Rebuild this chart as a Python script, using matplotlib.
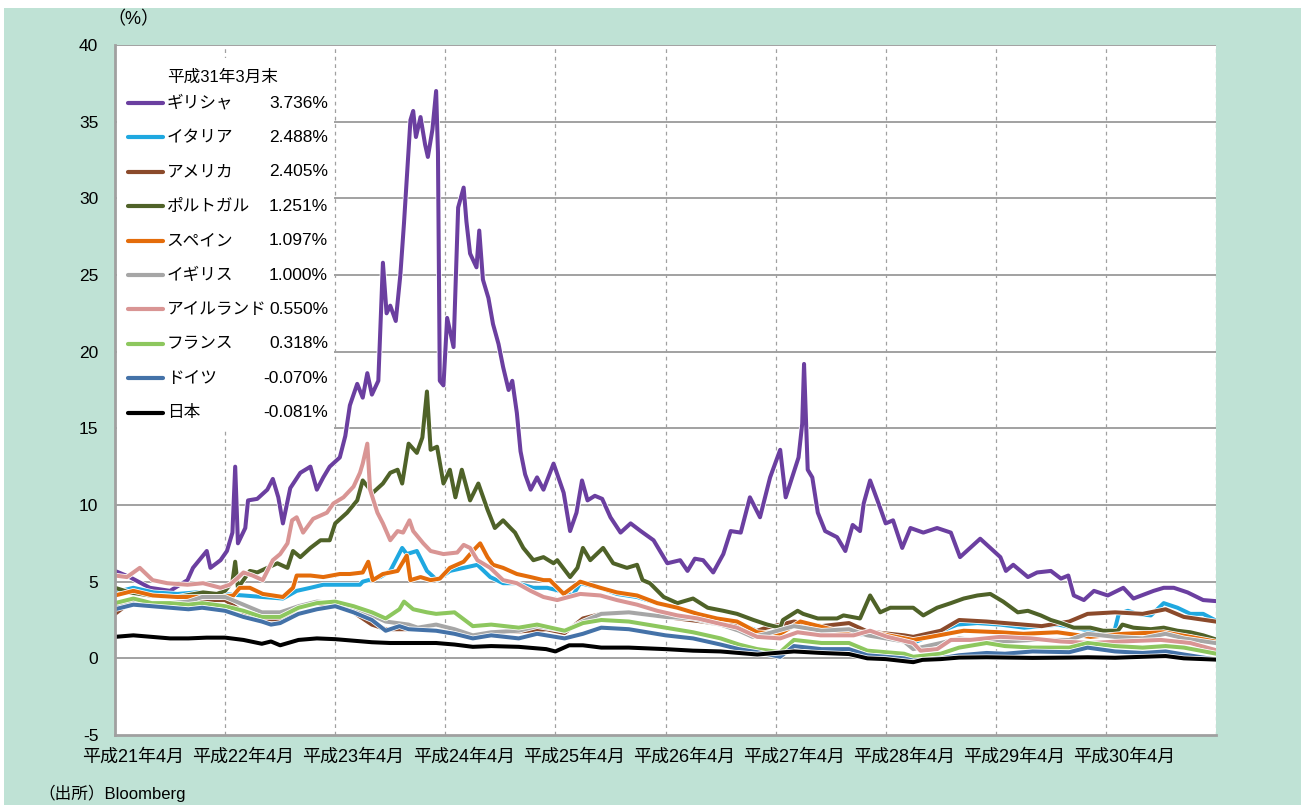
import numpy as np
import matplotlib
matplotlib.use("Agg")
from matplotlib import pyplot as plt
from matplotlib.patches import Rectangle
import matplotlib.patheffects as pe

plt.rcParams['font.family'] = ['Liberation Sans', 'Noto Sans CJK JP', 'DejaVu Sans']

# time axis: months since 2009-04 (平成21年4月)
gr_t = [0, 1.6, 3.8, 6.0, 7.9, 8.5, 10.0, 10.4, 11.5, 12.2, 12.8, 13.1, 13.4, 14.2, 14.5, 15.5,
        16.6, 17.2, 17.8, 18.3, 19.1, 20.2, 21.3, 22.0, 22.7, 23.4, 24.5, 25.1, 25.6, 26.4, 27.0,
        27.5, 28.0, 28.7, 29.2, 29.6, 30.0, 30.6, 31.1, 31.5, 32.2, 32.5, 32.8, 33.3, 33.8, 34.1,
        34.6, 35.0, 35.2, 35.4, 35.8, 36.2, 36.9, 37.4, 38.0, 38.3, 38.7, 39.4, 39.7, 40.1, 40.7,
        41.2, 41.8, 42.3, 42.9, 43.3, 43.8, 44.2, 44.7, 45.3, 46.0, 46.7, 47.8, 48.9, 49.6, 50.3,
        50.9, 51.5, 52.3, 53.1, 54.0, 55.1, 56.2, 57.3, 58.7, 60.2, 61.6, 62.4, 63.2, 64.1, 65.2,
        66.3, 67.1, 68.2, 69.2, 70.3, 71.4, 72.5, 73.1, 73.8, 74.5, 74.9, 75.1, 75.5, 76.0, 76.6,
        77.4, 78.7, 79.6, 80.4, 81.2, 81.6, 82.3, 83.1, 84.0, 84.8, 85.8, 86.7, 88.1, 89.6, 91.1,
        92.1, 93.2, 94.3, 95.4, 96.5, 97.1, 97.9, 99.5, 100.5, 102.0, 103.1, 103.9, 104.5, 105.6,
        106.7, 108.2, 109.9, 111.0, 113.2, 114.3, 115.4, 116.9, 118.6, 119.9]
gr_v = [5.7, 5.3, 4.6, 4.4, 5.1, 5.9, 7.0, 5.9, 6.4, 7.0, 8.2, 12.5, 7.5, 8.5, 10.3, 10.4,
        11.0, 11.7, 10.5, 8.8, 11.1, 12.1, 12.5, 11.0, 11.8, 12.5, 13.1, 14.5, 16.5, 17.9, 17.0,
        18.6, 17.2, 18.1, 25.8, 22.5, 23.0, 22.0, 25.0, 28.4, 35.1, 35.7, 34.0, 35.3, 33.5, 32.7,
        34.5, 37.0, 33.0, 18.1, 17.8, 22.2, 20.3, 29.4, 30.7, 28.5, 26.4, 25.5, 27.9, 24.7, 23.5,
        21.8, 20.5, 19.0, 17.5, 18.1, 16.0, 13.5, 12.0, 11.0, 11.8, 11.0, 12.7, 10.8, 8.3, 9.5,
        11.6, 10.3, 10.6, 10.4, 9.2, 8.2, 8.8, 8.3, 7.7, 6.2, 6.4, 5.7, 6.5, 6.4, 5.6,
        6.8, 8.3, 8.2, 10.5, 9.2, 11.8, 13.6, 10.5, 11.8, 13.1, 15.3, 19.2, 12.3, 11.8, 9.5,
        8.3, 7.9, 7.0, 8.7, 8.3, 10.1, 11.6, 10.3, 8.8, 9.0, 7.2, 8.5, 8.2, 8.5, 8.2,
        6.6, 7.2, 7.8, 7.2, 6.6, 5.7, 6.1, 5.3, 5.6, 5.7, 5.2, 5.4, 4.1, 3.8,
        4.4, 4.1, 4.6, 3.9, 4.4, 4.6, 4.6, 4.3, 3.8, 3.736]

it_t = [0, 2.0, 4.2, 6.8, 8.9, 11.5, 14.0, 16.1, 18.3, 19.8, 21.3, 22.7, 24.5, 26.7, 27.0, 28.9,
        30.0, 31.3, 31.8, 32.9, 34.0, 35.1, 36.5, 38.0, 39.5, 40.9, 42.3, 43.8, 45.6, 47.1, 48.5,
        49.9, 50.7, 52.9, 54.7, 56.9, 59.1, 61.3, 63.5, 65.6, 67.8, 70.0, 72.5, 74.4, 78.7, 83.4,
        87.0, 88.9, 91.8, 94.0, 96.5, 99.1, 102.8, 106.3, 108.9, 109.4, 110.4, 111.4, 112.9, 114.3,
        115.8, 117.2, 118.6, 119.9]
it_v = [4.3, 4.6, 4.3, 4.2, 4.3, 4.2, 4.1, 4.0, 3.9, 4.4, 4.6, 4.8, 4.8, 4.8, 5.0, 5.3,
        5.7, 7.2, 6.8, 7.0, 5.7, 5.1, 5.7, 5.9, 6.1, 5.3, 4.9, 4.9, 4.6, 4.6, 4.4,
        4.1, 4.9, 4.6, 4.2, 4.0, 3.6, 3.3, 2.9, 2.6, 2.3, 1.8, 1.6, 2.3, 1.8, 1.4,
        1.0, 1.5, 2.2, 2.3, 2.2, 2.0, 2.2, 1.8, 1.7, 2.9, 3.1, 2.9, 2.8, 3.6,
        3.3, 2.9, 2.9, 2.488]

us_t = [0, 2, 4, 6, 8, 12, 14, 16, 18, 20, 22, 24, 26, 28, 29.5, 32, 35, 39, 41, 44, 47, 49,
        51, 53, 56, 60, 64, 66, 68, 69.5, 71, 74, 77, 80, 82, 86, 87, 90, 92, 95, 101, 104, 106,
        109, 112, 114.5, 116.5, 119.9]
us_v = [2.9, 3.8, 3.6, 3.3, 3.8, 3.8, 3.0, 2.6, 2.5, 3.3, 3.6, 3.4, 3.0, 2.2, 1.9, 1.9, 2.2, 1.45,
        1.7, 1.75, 1.9, 1.65, 2.6, 2.9, 3.0, 2.7, 2.4, 2.2, 2.2, 1.7, 2.0, 2.4, 2.1, 2.3, 1.75, 1.5,
        1.4, 1.8, 2.5, 2.4, 2.1, 2.4, 2.9, 3.0, 2.9, 3.2, 2.7, 2.405]

pt_t = [0, 1.6, 3.8, 6.8, 9.6, 11.1, 12.0, 12.8, 13.1, 13.4, 14.7, 15.5, 16.6, 17.7, 18.8, 19.4,
        20.2, 21.3, 22.4, 23.4, 24.0, 25.3, 26.4, 27.0, 28.1, 29.2, 30.0, 30.8, 31.3, 32.0, 32.9,
        33.5, 34.0, 34.4, 35.1, 35.8, 36.5, 37.1, 37.8, 38.7, 39.6, 40.6, 41.4, 42.3, 43.1, 43.6,
        44.5, 45.6, 46.7, 47.8, 48.2, 49.6, 50.4, 51.0, 51.8, 53.2, 54.3, 55.8, 56.9, 57.5, 58.3,
        59.8, 61.3, 63.0, 64.6, 66.3, 67.8, 69.6, 71.1, 72.5, 72.8, 74.4, 75.0, 76.6, 78.7, 79.4,
        81.2, 82.3, 83.4, 84.5, 85.9, 87.0, 88.1, 89.6, 91.1, 92.5, 94.0, 95.4, 96.8, 98.4, 99.5,
        100.9, 102.0, 103.1, 104.5, 106.3, 107.7, 109.3, 109.8, 111.0, 112.9, 114.3, 115.8, 117.2,
        118.6, 119.9]
pt_v = [4.6, 4.3, 4.1, 4.0, 4.3, 4.2, 4.4, 5.0, 6.3, 4.6, 5.7, 5.6, 5.9, 6.2, 5.9, 7.0,
        6.6, 7.2, 7.7, 7.7, 8.8, 9.5, 10.3, 11.6, 10.8, 11.4, 12.1, 12.3, 11.4, 14.0, 13.4,
        14.4, 17.4, 13.6, 13.8, 11.4, 12.3, 10.5, 12.3, 10.3, 11.4, 9.7, 8.5, 9.0, 8.5, 8.2,
        7.2, 6.4, 6.6, 6.2, 6.4, 5.3, 5.9, 7.2, 6.4, 7.2, 6.2, 5.9, 6.1, 5.1, 4.9,
        4.0, 3.6, 3.9, 3.3, 3.1, 2.9, 2.5, 2.2, 2.0, 2.5, 3.1, 2.9, 2.6, 2.6, 2.8,
        2.6, 4.1, 3.0, 3.3, 3.3, 3.3, 2.8, 3.3, 3.6, 3.9, 4.1, 4.2, 3.7, 3.0, 3.1,
        2.8, 2.5, 2.3, 2.0, 2.0, 1.8, 1.8, 2.2, 2.0, 1.9, 2.0, 1.8, 1.7,
        1.5, 1.251]

es_t = [0, 2.0, 4.1, 6.8, 8.9, 11.5, 12.9, 13.6, 14.7, 16.1, 18.3, 19.4, 19.8, 21.3, 22.7, 24.5,
        25.6, 27.0, 27.6, 28.1, 29.2, 30.8, 31.8, 32.2, 33.3, 34.4, 35.4, 36.5, 38.0, 39.0, 39.8,
        40.6, 41.2, 42.3, 43.8, 45.3, 46.7, 47.4, 48.9, 50.7, 52.9, 54.7, 56.9, 59.1, 61.3, 63.5,
        65.6, 67.8, 70.0, 72.5, 74.7, 78.7, 83.4, 87.0, 88.9, 92.5, 96.5, 99.0, 102.7, 106.3,
        109.9, 114.3, 117.2, 119.9]
es_v = [4.1, 4.4, 4.1, 4.0, 4.0, 4.0, 4.1, 4.6, 4.6, 4.2, 4.0, 4.6, 5.4, 5.4, 5.3, 5.5,
        5.5, 5.6, 6.3, 5.1, 5.5, 5.7, 6.7, 5.1, 5.3, 5.1, 5.2, 5.9, 6.3, 7.0, 7.5,
        6.6, 6.1, 5.9, 5.5, 5.3, 5.1, 5.1, 4.2, 5.0, 4.6, 4.3, 4.1, 3.6, 3.3, 2.9,
        2.6, 2.4, 1.7, 1.6, 2.4, 1.8, 1.6, 1.2, 1.4, 1.8, 1.7, 1.6, 1.7, 1.4,
        1.6, 1.7, 1.4, 1.097]

uk_t = [0, 2, 4, 6, 8, 9.5, 12, 14, 16, 18, 20, 22, 24, 26, 28, 29.5, 32, 33, 35, 37, 39, 41,
        44, 46, 49, 51, 53, 56, 60, 63, 66, 68, 69.5, 71, 74, 77, 80, 82, 86, 87, 90, 92, 95, 97,
        100, 104, 106, 109, 112, 114.5, 116.5, 119.9]
uk_v = [3.4, 3.7, 3.6, 3.6, 3.7, 4.0, 4.0, 3.5, 3.0, 3.0, 3.4, 3.7, 3.6, 3.3, 2.8, 2.4, 2.2, 2.0,
        2.2, 1.9, 1.5, 1.7, 1.8, 2.1, 1.8, 2.4, 2.9, 3.0, 2.7, 2.6, 2.2, 1.8, 1.4, 1.6, 2.1, 1.8,
        1.9, 1.5, 1.1, 0.6, 1.0, 1.3, 1.1, 1.1, 1.2, 1.2, 1.6, 1.4, 1.3, 1.6, 1.3, 1.0]

ie_t = [0, 1.3, 2.7, 4.1, 5.7, 7.9, 9.6, 11.5, 12.5, 13.3, 14.0, 15.0, 16.1, 17.2, 18.0, 18.8,
        19.3, 19.8, 20.5, 21.6, 23.1, 23.8, 24.9, 26.0, 26.7, 27.0, 27.5, 27.8, 28.6, 29.2, 30.0,
        30.8, 31.4, 32.1, 32.5, 33.6, 34.4, 35.8, 37.3, 38.0, 38.7, 39.5, 40.9, 42.3, 43.8, 45.3,
        46.7, 48.2, 50.7, 52.9, 54.7, 56.9, 59.1, 61.3, 63.5, 65.6, 67.8, 70.0, 72.5, 74.4, 76.9,
        80.5, 82.3, 84.2, 87.0, 87.8, 89.6, 91.1, 93.2, 96.5, 99.8, 103.1, 106.3, 109.6, 114.0,
        117.2, 119.9]
ie_v = [5.4, 5.3, 5.9, 5.1, 4.9, 4.8, 4.9, 4.6, 4.8, 5.2, 5.6, 5.4, 5.1, 6.4, 6.8, 7.5,
        9.0, 9.2, 8.2, 9.1, 9.5, 10.1, 10.5, 11.2, 12.1, 12.7, 14.0, 11.0, 9.5, 8.8, 7.7,
        8.3, 8.2, 9.0, 8.3, 7.5, 7.0, 6.8, 6.9, 7.4, 7.2, 6.4, 5.9, 5.1, 4.9, 4.4,
        4.0, 3.8, 4.2, 4.1, 3.8, 3.5, 3.1, 2.8, 2.6, 2.3, 2.0, 1.4, 1.3, 1.7, 1.5,
        1.5, 1.8, 1.4, 1.0, 0.5, 0.6, 1.2, 1.2, 1.4, 1.3, 1.1, 1.0, 1.1, 1.2,
        1.0, 0.55]

fr_t = [0, 2, 4, 6, 8, 9.5, 12, 14, 16, 18, 20, 22, 24, 26, 28, 29.5, 31, 31.5, 32.5, 34, 35,
        37, 39, 41, 44, 46, 49, 51, 53, 56, 60, 63, 66, 68, 70, 72.5, 74, 77, 80, 82, 86, 87, 90,
        92, 95, 97, 100, 104, 106, 109, 112, 114.5, 116.5, 119.9]
fr_v = [3.6, 3.9, 3.6, 3.6, 3.5, 3.6, 3.4, 3.1, 2.7, 2.7, 3.3, 3.6, 3.7, 3.4, 3.0, 2.6, 3.2,
        3.7, 3.2, 3.0, 2.9, 3.0, 2.1, 2.2, 2.0, 2.2, 1.8, 2.3, 2.5, 2.4, 2.0, 1.7, 1.3, 0.9, 0.6,
        0.4, 1.2, 1.0, 1.0, 0.5, 0.3, 0.1, 0.3, 0.7, 1.0, 0.8, 0.7, 0.7, 1.0, 0.8, 0.7, 0.8, 0.7,
        0.318]

de_t = [0, 2, 4, 6, 8, 9.5, 12, 14, 16, 17, 18, 20, 22, 24, 26, 28, 29.5, 31, 32, 35, 37, 39,
        41, 44, 46, 49, 51, 53, 56, 60, 63, 66, 68, 70, 72.5, 74, 77, 80, 82, 86, 87, 90, 92, 95,
        97, 100, 104, 106, 109, 112, 114.5, 116.5, 119.9]
de_v = [3.2, 3.5, 3.4, 3.3, 3.2, 3.3, 3.1, 2.7, 2.4, 2.2, 2.3, 2.9, 3.2, 3.4, 3.0, 2.5, 1.8,
        2.1, 1.9, 1.8, 1.6, 1.3, 1.5, 1.3, 1.6, 1.3, 1.6, 2.0, 1.9, 1.5, 1.3, 0.9, 0.6, 0.4, 0.1,
        0.8, 0.6, 0.6, 0.2, 0.0, -0.15, 0.0, 0.2, 0.35, 0.3, 0.45, 0.4, 0.7, 0.45, 0.35, 0.45,
        0.25, -0.07]

jp_t = [0, 2, 4, 6, 8, 10, 12, 14, 16, 17, 18, 20, 22, 24, 26, 28, 30, 32, 35, 37, 39, 41, 44,
        47, 48, 49.5, 51, 53, 56, 60, 63, 66, 68, 70, 72, 74, 77, 80, 82, 84, 87, 88, 90, 92, 95,
        100, 104, 106, 109, 112, 114.5, 116.5, 119.9]
jp_v = [1.4, 1.5, 1.4, 1.3, 1.3, 1.35, 1.35, 1.2, 0.95, 1.1, 0.85, 1.2, 1.3, 1.25, 1.15, 1.05,
        1.0, 1.0, 1.0, 0.9, 0.75, 0.8, 0.75, 0.6, 0.45, 0.85, 0.85, 0.7, 0.7, 0.6, 0.5, 0.45, 0.35,
        0.25, 0.35, 0.45, 0.35, 0.28, 0.0, -0.05, -0.25, -0.1, -0.05, 0.05, 0.07, 0.03, 0.05,
        0.07, 0.04, 0.1, 0.15, 0.0, -0.08]

names = ['ギリシャ', 'イタリア', 'アメリカ', 'ポルトガル', 'スペイン',
         'イギリス', 'アイルランド', 'フランス', 'ドイツ', '日本']
end_values = ['3.736%', '2.488%', '2.405%', '1.251%', '1.097%',
              '1.000%', '0.550%', '0.318%', '-0.070%', '-0.081%']
colors = ['#6b3fa0', '#1fa8e0', '#8b4a2b', '#4f6228', '#e46c0a',
          '#a6a6a6', '#d99594', '#8dc75e', '#4472a8', '#000000']
series = [(gr_t, gr_v), (it_t, it_v), (us_t, us_v), (pt_t, pt_v), (es_t, es_v),
          (uk_t, uk_v), (ie_t, ie_v), (fr_t, fr_v), (de_t, de_v), (jp_t, jp_v)]

year_labels = ['平成{}年4月'.format(y) for y in range(21, 31)]

fig = plt.figure(figsize=(13.01, 8.05), dpi=100)
fig.patch.set_facecolor('white')
fig.patches.append(Rectangle((4 / 1301, 0), 1, 797 / 805, transform=fig.transFigure,
                             facecolor='#bfe2d5', edgecolor='none', zorder=-10))

ax = fig.add_axes([115 / 1301, 70 / 805, 1101 / 1301, 690 / 805])
ax.set_facecolor('white')
ax.set_xlim(0, 120)
ax.set_ylim(-5, 40)

# grid
for y in range(0, 41, 5):
    ax.axhline(y, color='#9a9a9a', lw=1.3, zorder=1)
for m in range(12, 121, 12):
    ax.axvline(m, color='#a0a0a0', lw=0.9, ls=(0, (3, 3)), zorder=1)

for (t, v), c in zip(series, colors):
    ax.plot(t, v, color=c, lw=2.9, zorder=3, solid_joinstyle='round',
            path_effects=[pe.Stroke(linewidth=4.0, foreground='white'), pe.Normal()])

ax.set_yticks(range(-5, 41, 5))
ax.set_yticklabels([str(y) for y in range(-5, 41, 5)], fontsize=12.5)
ax.set_xticks([])
ax.tick_params(axis='y', length=0, pad=12)
for s in ['top', 'right']:
    ax.spines[s].set_visible(False)
for s in ['left', 'bottom']:
    ax.spines[s].set_color('#a0a0a0')
    ax.spines[s].set_linewidth(2)
    ax.spines[s].set_zorder(7)

for i, lab in enumerate(year_labels):
    ax.annotate(lab, xy=(i * 12 + 2.0, 0), xycoords=('data', 'axes fraction'),
                xytext=(0, -16), textcoords='offset points', ha='center', va='center',
                fontsize=13)

# legend box
ax.add_patch(Rectangle((0.002, 0.442), 0.197, 0.539, transform=ax.transAxes,
                       facecolor='white', edgecolor='none', zorder=5))
ax.text(0.047, 0.954, '平成31年3月末', transform=ax.transAxes, fontsize=12,
        va='center', ha='left', zorder=6)
for i, (n, val, c) in enumerate(zip(names, end_values, colors)):
    fy = 1 - (103 + 34.4 * i - 45) / 690
    ax.plot([0.012, 0.044], [fy, fy], transform=ax.transAxes, color=c, lw=3,
            zorder=6, solid_capstyle='round')
    ax.text(0.047, fy, n, transform=ax.transAxes, fontsize=12, va='center',
            ha='left', zorder=6)
    ax.text(0.1935, fy, val, transform=ax.transAxes, fontsize=12.5, va='center',
            ha='right', zorder=6)

fig.text(133 / 1301, 1 - 20 / 805, '（%）', fontsize=13, ha='center', va='center')
fig.text(38 / 1301, 1 - 793 / 805, '（出所）Bloomberg', fontsize=12, ha='left', va='center')

fig.savefig('out.png', dpi=100)
